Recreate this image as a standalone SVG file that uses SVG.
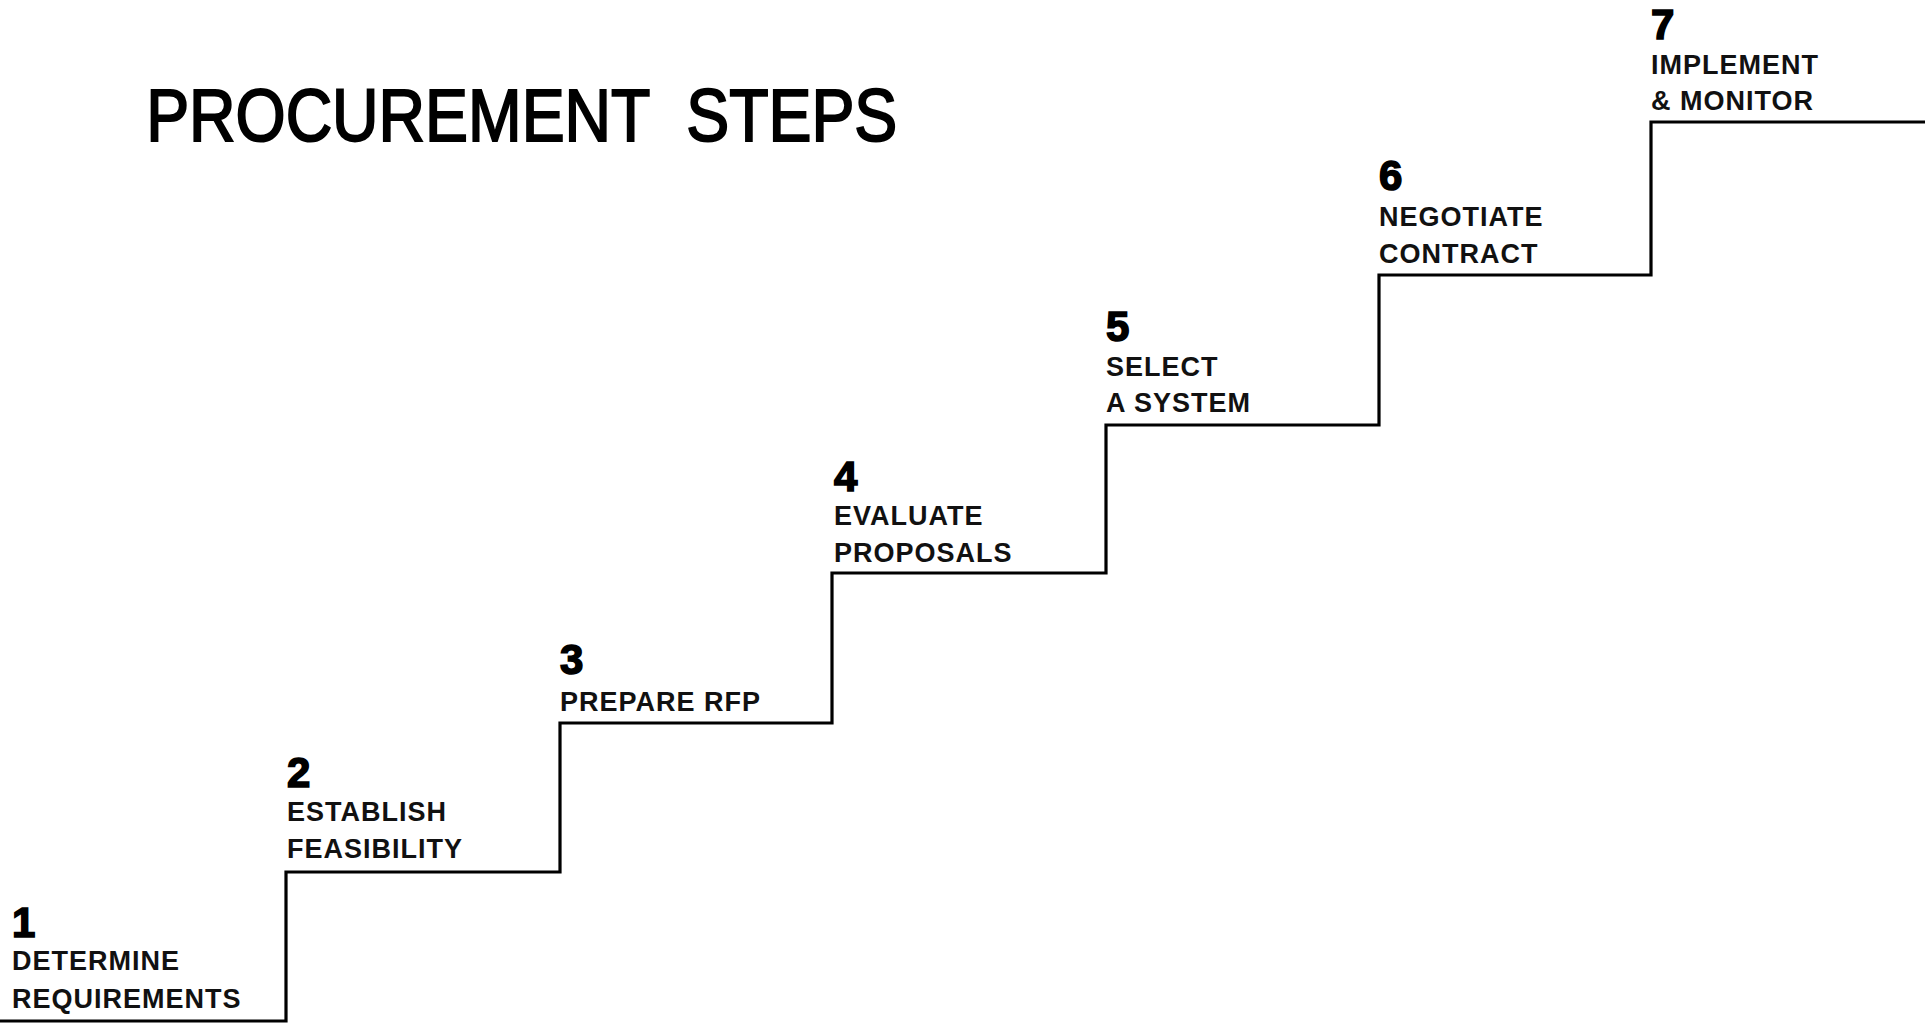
<svg xmlns="http://www.w3.org/2000/svg" width="1925" height="1028" viewBox="0 0 1925 1028">
<style>
.num{font-family:"Liberation Sans",Arial,sans-serif;font-weight:bold;font-size:42px;fill:#000;stroke:#000;stroke-width:1.6}
.lbl{font-family:"Liberation Sans",Arial,sans-serif;font-weight:bold;font-size:27px;letter-spacing:1px;fill:#111}
.title{font-family:"Liberation Sans",Arial,sans-serif;font-size:74px;word-spacing:22px;fill:#000;stroke:#000;stroke-width:2}
.stair{fill:none;stroke:#000;stroke-width:3.2;stroke-linejoin:miter}
</style>
<rect width="1925" height="1028" fill="#fff"/>
<g id="title">
<text class="title" transform="scale(0.87,1)" x="168" y="141">PROCUREMENT STEPS</text>
</g>
<g id="connectors">
<path class="stair" d="M0 1021 H286 V872 H560 V723 H832 V573 H1106 V425 H1379 V275 H1651 V122 H1925"/>
</g>
<g id="step1"><text class="num" x="12" y="937">1</text><text class="lbl" x="12" y="970">DETERMINE</text><text class="lbl" x="12" y="1008">REQUIREMENTS</text></g>
<g id="step2"><text class="num" x="287" y="787">2</text><text class="lbl" x="287" y="821">ESTABLISH</text><text class="lbl" x="287" y="858">FEASIBILITY</text></g>
<g id="step3"><text class="num" x="560" y="674">3</text><text class="lbl" x="560" y="711">PREPARE RFP</text></g>
<g id="step4"><text class="num" x="834" y="491">4</text><text class="lbl" x="834" y="525">EVALUATE</text><text class="lbl" x="834" y="562">PROPOSALS</text></g>
<g id="step5"><text class="num" x="1106" y="341">5</text><text class="lbl" x="1106" y="376">SELECT</text><text class="lbl" x="1106" y="412">A SYSTEM</text></g>
<g id="step6"><text class="num" x="1379" y="190">6</text><text class="lbl" x="1379" y="226">NEGOTIATE</text><text class="lbl" x="1379" y="263">CONTRACT</text></g>
<g id="step7"><text class="num" x="1651" y="39">7</text><text class="lbl" x="1651" y="74">IMPLEMENT</text><text class="lbl" x="1651" y="110">&amp; MONITOR</text></g>
</svg>
